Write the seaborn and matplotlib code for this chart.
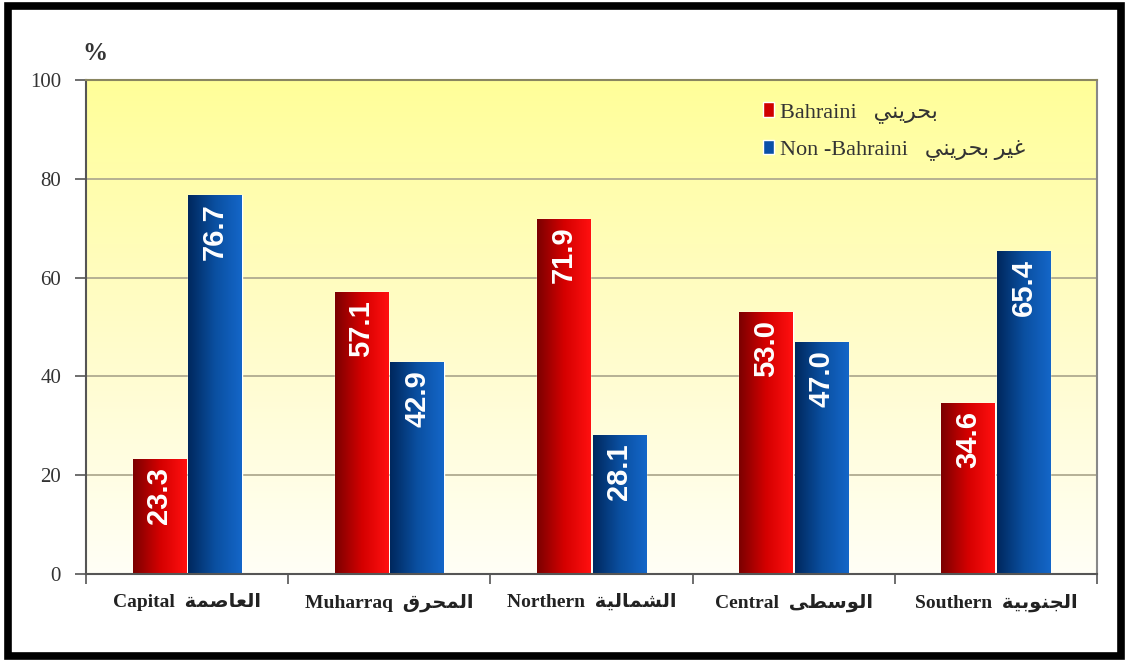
import numpy as np
import pandas as pd
import matplotlib
matplotlib.use("Agg")
import matplotlib.pyplot as plt
from matplotlib.colors import LinearSegmentedColormap
from matplotlib.patches import Rectangle
import seaborn as sns

# data (% of population by governorate)
regions_en = ["Capital", "Muharraq", "Northern", "Central", "Southern"]
regions_ar = ["العاصمة", "المحرق", "الشمالية", "الوسطى", "الجنوبية"]
bahraini = [23.3, 57.1, 71.9, 53.0, 34.6]
non_bahraini = [76.7, 42.9, 28.1, 47.0, 65.4]
series_en = ["Bahraini", "Non -Bahraini"]
series_ar = ["بحريني", "غير بحريني"]
y_ticks = [0, 20, 40, 60, 80, 100]

# tiny arabic shaper: matplotlib has no shaping, so use presentation forms
DUAL = {'ب': 0xFE8F, 'ج': 0xFE9D, 'ح': 0xFEA1, 'س': 0xFEB1, 'ش': 0xFEB5,
        'ص': 0xFEB9, 'ط': 0xFEC1, 'ع': 0xFEC9, 'غ': 0xFECD, 'ق': 0xFED5,
        'ل': 0xFEDD, 'م': 0xFEE1, 'ن': 0xFEE5, 'ي': 0xFEF1}
RIGHT = {'ا': 0xFE8D, 'ر': 0xFEAD, 'و': 0xFEED, 'ة': 0xFE93, 'ى': 0xFEEF}


def shape(word):
    out = []
    for i, ch in enumerate(word):
        if ch not in DUAL and ch not in RIGHT:
            out.append(ch)
            continue
        prev = word[i - 1] if i > 0 else ''
        nxt = word[i + 1] if i + 1 < len(word) else ''
        jp = prev in DUAL
        jn = ch in DUAL and (nxt in DUAL or nxt in RIGHT)
        base = DUAL.get(ch, RIGHT.get(ch))
        off = 3 if (jp and jn) else 1 if jp else 2 if jn else 0
        out.append(chr(base + off))
    return ''.join(reversed(out))


serif = ['Liberation Serif', 'DejaVu Sans']

df = pd.DataFrame({
    "region": regions_en * 2,
    "group": [series_en[0]] * 5 + [series_en[1]] * 5,
    "value": bahraini + non_bahraini,
})

sns.set_style("white")
plt.rcParams['font.family'] = serif

fig = plt.figure(figsize=(11.26, 6.63), dpi=100)
ax = fig.add_axes([0.0764, 0.1342, 0.8979, 0.7451])

sns.barplot(data=df, x="region", y="value", hue="group", order=regions_en,
            palette=["#d00000", "#0a50a8"], width=0.55, gap=0.04,
            saturation=1, ax=ax, zorder=2, legend=True)

# yellow background fading to white
bg = LinearSegmentedColormap.from_list("bg", ["#fffff6", "#fffcc8", "#ffff99"])
ax.imshow(np.linspace(0, 1, 256).reshape(-1, 1), extent=[-0.5, 4.5, 0, 100],
          origin="lower", cmap=bg, aspect="auto", zorder=0)

# gradient fill for the bars
red_cm = LinearSegmentedColormap.from_list("r", ["#7c0000", "#d40000", "#ff1010"])
blue_cm = LinearSegmentedColormap.from_list("b", ["#00285e", "#0a4fa0", "#1466c8"])
grad = np.linspace(0, 1, 64).reshape(1, -1)
for cont, cm in zip(ax.containers, [red_cm, blue_cm]):
    for bar in cont:
        x0, w, h = bar.get_x(), bar.get_width(), bar.get_height()
        im = ax.imshow(grad, extent=[x0, x0 + w, 0, h], cmap=cm,
                       aspect="auto", zorder=2.5)
        im.set_clip_path(bar)
        ax.text(x0 + w / 2, h - 1.6, f"{h:.1f}", rotation=90, ha="center",
                va="top", color="white", fontsize=21, fontweight="bold",
                family="Liberation Sans", zorder=3)

ax.set_xlim(-0.5, 4.5)
ax.set_ylim(0, 100)
ax.set_yticks(y_ticks)
ax.set_yticklabels([str(t) for t in y_ticks], fontsize=15, color="#333333")
ax.tick_params(axis="y", length=8, width=1.2, color="#555555", direction="out",
               left=True, pad=10)

ax.set_xticks(range(len(regions_en)))
ax.set_xticklabels([f"{e}  {shape(a)}" for e, a in zip(regions_en, regions_ar)],
                   fontsize=14, fontweight="bold", color="#222222", family=serif)
ax.tick_params(axis="x", length=0, pad=14)
ax.set_xticks(np.arange(-0.5, 5, 1), minor=True)
ax.tick_params(axis="x", which="minor", length=7, width=1.2, color="#555555",
               direction="out", bottom=True)

ax.set_xlabel("")
ax.set_ylabel("")
ax.grid(axis="y", color="#b0ab90", linewidth=1.3, zorder=1)
ax.set_axisbelow(True)
for side, col in [("left", "#555555"), ("bottom", "#555555"),
                  ("top", "#8a8660"), ("right", "#888888")]:
    ax.spines[side].set_visible(True)
    ax.spines[side].set_color(col)
    ax.spines[side].set_linewidth(1.5)

handles, _ = ax.get_legend_handles_labels()
ax.legend(handles, [f"{e}   {shape(a)}" for e, a in zip(series_en, series_ar)],
          loc="upper left", bbox_to_anchor=(0.65, 0.995), frameon=False,
          handlelength=0.5, handleheight=0.6, handletextpad=0.25,
          labelspacing=0.75, prop={"family": serif, "size": 16},
          labelcolor="#333333")

fig.text(82 / 1126, 1 - 53 / 663, "%", fontsize=18, fontweight="bold",
         color="#333333", family="Liberation Serif", va="center")

# black frame around the whole picture
fig.patches.append(Rectangle((0.0071, 0.0106), 0.9885, 0.98, transform=fig.transFigure,
                             fill=False, ec="black", lw=5.5, zorder=10))

fig.savefig("out.png", dpi=100, facecolor="white")
